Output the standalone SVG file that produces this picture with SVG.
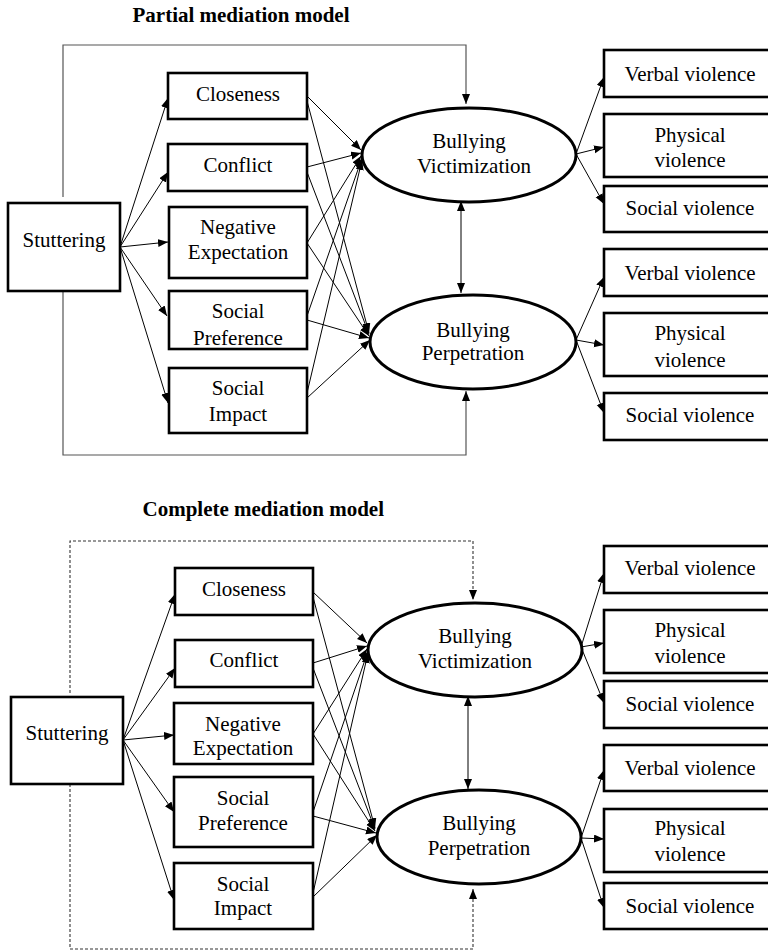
<svg xmlns="http://www.w3.org/2000/svg" width="768" height="952" viewBox="0 0 768 952">
  <style>
    text { font-family: "Liberation Serif", "Times New Roman", serif; font-size: 21px; fill: #000; text-anchor: middle; }
    .title { font-weight: bold; text-anchor: start; }
    .box { fill: #fff; stroke: #000; stroke-width: 2.6; }
    .oval { fill: #fff; stroke: #000; stroke-width: 3; }
    .edge { fill: none; stroke: #000; stroke-width: 1; marker-end: url(#arrow); }
    .frame { fill: none; stroke: #555; stroke-width: 1.2; }
    .frame-dash { fill: none; stroke: #333; stroke-width: 1.1; stroke-dasharray: 3 2; }
  </style>
  <defs>
    <marker id="arrow" markerUnits="userSpaceOnUse" markerWidth="11" markerHeight="9" refX="10" refY="4" orient="auto-start-reverse">
      <path d="M0,0 L10,4 L0,8 Z" fill="#000"/>
    </marker>
  </defs>

  <rect width="768" height="952" fill="#fff"/>

  <!-- ===== Partial mediation model ===== -->
  <text class="title" x="132.5" y="22">Partial mediation model</text>

  <g id="partial-connectors">
    <!-- direct paths from Stuttering (frame lines) -->
    <path class="frame" d="M63,197 V45 H466 V104" marker-end="url(#arrow)"/>
    <path class="frame" d="M63,291 V455 H466 V391" marker-end="url(#arrow)"/>
    <!-- Stuttering to mediators -->
    <line class="edge" x1="120" y1="247" x2="168" y2="98"/>
    <line class="edge" x1="120" y1="247" x2="168" y2="172"/>
    <line class="edge" x1="120" y1="247" x2="168" y2="242"/>
    <line class="edge" x1="120" y1="247" x2="167" y2="316"/>
    <line class="edge" x1="120" y1="247" x2="168" y2="403"/>
    <!-- mediators to Bullying Victimization -->
    <line class="edge" x1="307" y1="96" x2="361" y2="150"/>
    <line class="edge" x1="307" y1="167" x2="361" y2="153"/>
    <line class="edge" x1="307" y1="243" x2="361" y2="156"/>
    <line class="edge" x1="307" y1="316" x2="362" y2="158"/>
    <line class="edge" x1="307" y1="393" x2="362" y2="160"/>
    <!-- mediators to Bullying Perpetration -->
    <line class="edge" x1="307" y1="101" x2="369" y2="333"/>
    <line class="edge" x1="307" y1="172" x2="369" y2="334"/>
    <line class="edge" x1="307" y1="243" x2="369" y2="336"/>
    <line class="edge" x1="307" y1="320" x2="369" y2="338"/>
    <line class="edge" x1="307" y1="398" x2="370" y2="340"/>
    <!-- correlation between outcomes -->
    <line class="edge" x1="461" y1="201" x2="461" y2="293" marker-start="url(#arrow)"/>
    <!-- indicators -->
    <line class="edge" x1="576" y1="154" x2="604" y2="77"/>
    <line class="edge" x1="576" y1="154" x2="604" y2="147"/>
    <line class="edge" x1="576" y1="154" x2="604" y2="204"/>
    <line class="edge" x1="576" y1="340" x2="604" y2="277"/>
    <line class="edge" x1="576" y1="340" x2="604" y2="345"/>
    <line class="edge" x1="576" y1="340" x2="604" y2="413"/>
  </g>

  <g id="p-stuttering"><rect class="box" x="8" y="203" width="112" height="88"/><text x="64" y="247">Stuttering</text></g>
  <g id="p-closeness"><rect class="box" x="168" y="73" width="139" height="46"/><text x="238" y="101">Closeness</text></g>
  <g id="p-conflict"><rect class="box" x="168" y="144" width="139" height="47"/><text x="238" y="172">Conflict</text></g>
  <g id="p-negative"><rect class="box" x="169" y="207" width="138" height="71"/><text x="238" y="234">Negative</text><text x="238" y="259">Expectation</text></g>
  <g id="p-preference"><rect class="box" x="169" y="291" width="138" height="58"/><text x="238" y="318">Social</text><text x="238" y="345">Preference</text></g>
  <g id="p-impact"><rect class="box" x="169" y="368" width="138" height="65"/><text x="238" y="395">Social</text><text x="238" y="421">Impact</text></g>

  <g id="p-victimization"><ellipse class="oval" cx="469" cy="155" rx="107" ry="47"/><text x="469" y="148">Bullying</text><text x="474" y="173">Victimization</text></g>
  <g id="p-perpetration"><ellipse class="oval" cx="473" cy="342" rx="103" ry="47"/><text x="473" y="337">Bullying</text><text x="473" y="360">Perpetration</text></g>

  <g id="p-vict-verbal"><rect class="box" x="604" y="50" width="172" height="47"/><text x="690" y="81">Verbal violence</text></g>
  <g id="p-vict-physical"><rect class="box" x="604" y="114" width="172" height="63"/><text x="690" y="142">Physical</text><text x="690" y="167">violence</text></g>
  <g id="p-vict-social"><rect class="box" x="604" y="186" width="172" height="46"/><text x="690" y="215">Social violence</text></g>
  <g id="p-perp-verbal"><rect class="box" x="604" y="249" width="172" height="47"/><text x="690" y="280">Verbal violence</text></g>
  <g id="p-perp-physical"><rect class="box" x="604" y="313" width="172" height="63"/><text x="690" y="340">Physical</text><text x="690" y="367">violence</text></g>
  <g id="p-perp-social"><rect class="box" x="604" y="393" width="172" height="47"/><text x="690" y="422">Social violence</text></g>

  <!-- ===== Complete mediation model ===== -->
  <text class="title" x="142.5" y="516">Complete mediation model</text>

  <g id="complete-connectors">
    <!-- constrained direct paths (dashed) -->
    <path class="frame-dash" d="M70,693 V541 H473 V600" marker-end="url(#arrow)"/>
    <path class="frame-dash" d="M70,784 V949 H473 V889" marker-end="url(#arrow)"/>
    <!-- Stuttering to mediators -->
    <line class="edge" x1="123" y1="740" x2="175" y2="594"/>
    <line class="edge" x1="123" y1="740" x2="175" y2="668"/>
    <line class="edge" x1="123" y1="740" x2="174" y2="735"/>
    <line class="edge" x1="123" y1="740" x2="174" y2="812"/>
    <line class="edge" x1="123" y1="740" x2="174" y2="900"/>
    <!-- mediators to Bullying Victimization -->
    <line class="edge" x1="313" y1="592" x2="367" y2="643"/>
    <line class="edge" x1="313" y1="663" x2="367" y2="646"/>
    <line class="edge" x1="313" y1="734" x2="367" y2="649"/>
    <line class="edge" x1="313" y1="812" x2="368" y2="651"/>
    <line class="edge" x1="313" y1="893" x2="368" y2="653"/>
    <!-- mediators to Bullying Perpetration -->
    <line class="edge" x1="313" y1="597" x2="375" y2="828"/>
    <line class="edge" x1="313" y1="668" x2="375" y2="829"/>
    <line class="edge" x1="313" y1="734" x2="375" y2="831"/>
    <line class="edge" x1="313" y1="816" x2="376" y2="833"/>
    <line class="edge" x1="313" y1="897" x2="377" y2="835"/>
    <!-- correlation between outcomes -->
    <line class="edge" x1="468" y1="696" x2="468" y2="789" marker-start="url(#arrow)"/>
    <!-- indicators -->
    <line class="edge" x1="581" y1="647" x2="604" y2="573"/>
    <line class="edge" x1="581" y1="647" x2="604" y2="643"/>
    <line class="edge" x1="581" y1="647" x2="604" y2="703"/>
    <line class="edge" x1="581" y1="838" x2="604" y2="770"/>
    <line class="edge" x1="581" y1="838" x2="604" y2="839"/>
    <line class="edge" x1="581" y1="838" x2="604" y2="908"/>
  </g>

  <g id="c-stuttering"><rect class="box" x="11" y="697" width="112" height="87"/><text x="67" y="740">Stuttering</text></g>
  <g id="c-closeness"><rect class="box" x="175" y="568" width="138" height="47"/><text x="244" y="596">Closeness</text></g>
  <g id="c-conflict"><rect class="box" x="175" y="640" width="138" height="47"/><text x="244" y="667">Conflict</text></g>
  <g id="c-negative"><rect class="box" x="174" y="703" width="139" height="61"/><text x="243" y="731">Negative</text><text x="243" y="755">Expectation</text></g>
  <g id="c-preference"><rect class="box" x="174" y="777" width="139" height="70"/><text x="243" y="805">Social</text><text x="243" y="830">Preference</text></g>
  <g id="c-impact"><rect class="box" x="174" y="863" width="139" height="66"/><text x="243" y="891">Social</text><text x="243" y="915">Impact</text></g>

  <g id="c-victimization"><ellipse class="oval" cx="475" cy="650" rx="107" ry="47"/><text x="475" y="643">Bullying</text><text x="475" y="668">Victimization</text></g>
  <g id="c-perpetration"><ellipse class="oval" cx="479" cy="837" rx="102" ry="47"/><text x="479" y="830">Bullying</text><text x="479" y="855">Perpetration</text></g>

  <g id="c-vict-verbal"><rect class="box" x="604" y="546" width="172" height="47"/><text x="690" y="575">Verbal violence</text></g>
  <g id="c-vict-physical"><rect class="box" x="604" y="610" width="172" height="63"/><text x="690" y="637">Physical</text><text x="690" y="663">violence</text></g>
  <g id="c-vict-social"><rect class="box" x="604" y="681" width="172" height="47"/><text x="690" y="711">Social violence</text></g>
  <g id="c-perp-verbal"><rect class="box" x="604" y="745" width="172" height="46"/><text x="690" y="775">Verbal violence</text></g>
  <g id="c-perp-physical"><rect class="box" x="604" y="809" width="172" height="63"/><text x="690" y="835">Physical</text><text x="690" y="861">violence</text></g>
  <g id="c-perp-social"><rect class="box" x="604" y="883" width="172" height="46"/><text x="690" y="913">Social violence</text></g>
</svg>
